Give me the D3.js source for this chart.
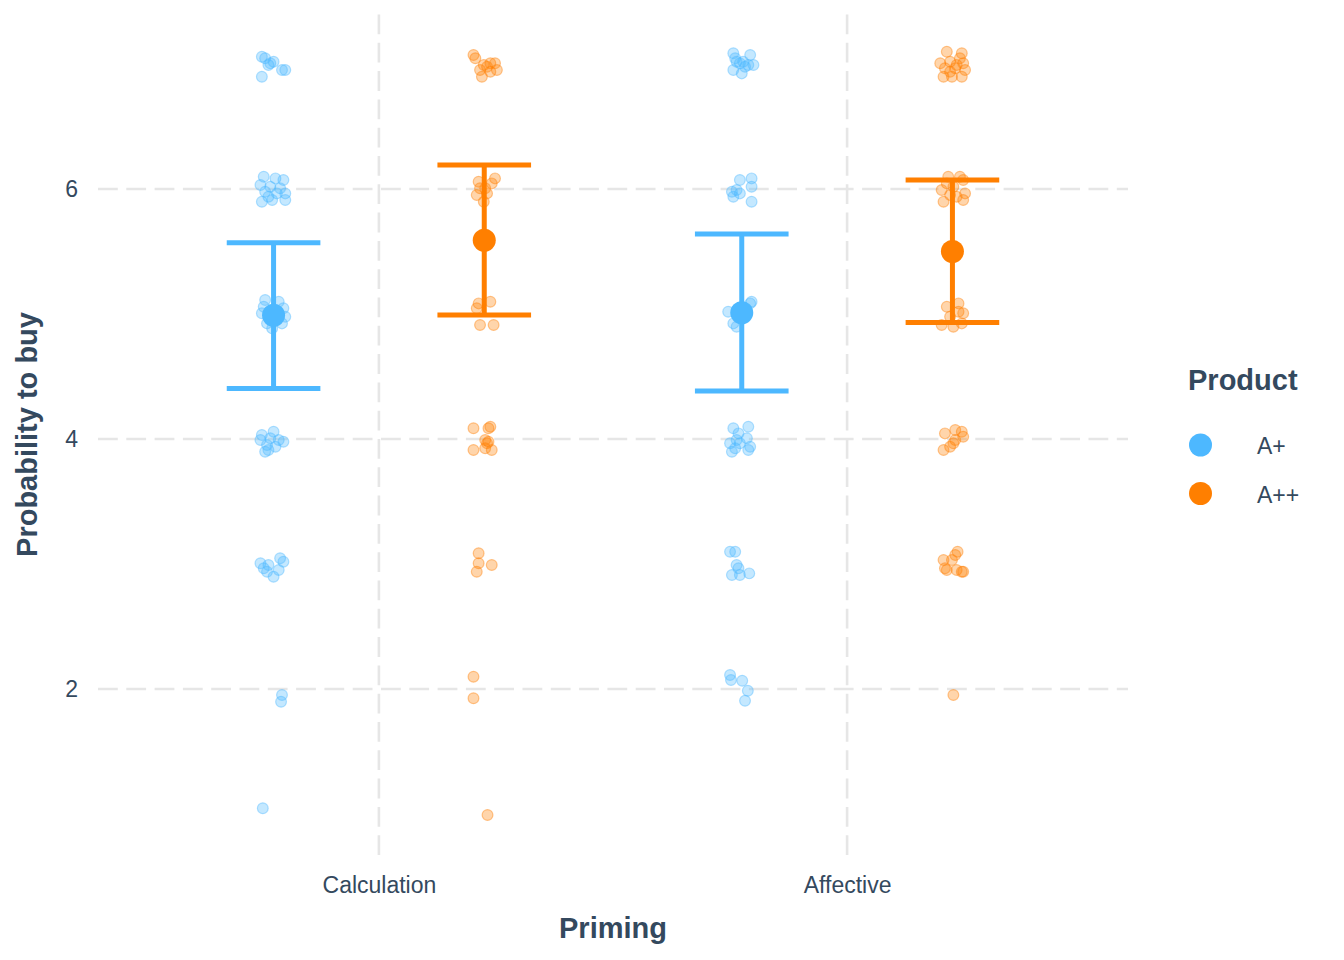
<!DOCTYPE html>
<html>
<head>
<meta charset="utf-8">
<script src="https://cdn.jsdelivr.net/npm/d3@7"></script>
<style>
  html, body { margin: 0; padding: 0; background: #ffffff; }
  svg { display: block; font-family: "Liberation Sans", Arial, Helvetica, sans-serif; }
</style>
</head>
<body>
<svg id="chart" width="1344" height="960"></svg>
<script>
// ---------------- DATA ----------------
const categories = ["Calculation", "Affective"];
const products = ["A+", "A++"];
const productColors = ["#4db8ff", "#ff7f00"];
const yTicks = [2, 4, 6];

// summary (mean and interval) per Priming x Product
const summaryCategory = ["Calculation", "Calculation", "Affective", "Affective"];
const summaryProduct  = ["A+", "A++", "A+", "A++"];
const summaryMean     = [4.99, 5.59, 5.01, 5.50];
const summaryLow      = [4.405, 4.992, 4.384, 4.933];
const summaryHigh     = [5.570, 6.192, 5.640, 6.072];

// jittered raw responses: [horizontal jitter (category units), value]
const pointsCalcAPlus = [
  [-0.025,7.058],[-0.018,7.046],[-0.007,7.006],[0.000,7.018],[0.018,6.952],[0.025,6.952],[-0.025,6.898],[-0.011,6.992],
  [-0.021,6.098],[0.004,6.085],[0.021,6.072],[-0.028,6.032],[-0.007,6.018],[0.014,6.006],[-0.018,5.978],[0.007,5.965],[0.025,5.965],[-0.025,5.898],[-0.003,5.912],[0.025,5.912],[-0.011,5.938],
  [-0.018,5.112],[0.011,5.098],[-0.025,5.006],[0.025,4.978],[-0.014,4.925],[0.018,4.925],[-0.003,4.885],[-0.021,5.058],[0.021,5.046],
  [-0.025,4.032],[0.000,4.058],[0.021,3.978],[-0.028,3.992],[-0.011,3.912],[0.004,3.938],[-0.014,3.952],[0.011,3.992],[-0.007,4.006],[-0.018,3.898],
  [-0.028,3.006],[-0.011,2.992],[0.014,3.046],[0.021,3.018],[-0.014,2.938],[0.000,2.898],[0.011,2.952],[-0.021,2.966],
  [0.018,1.952],[0.016,1.898],
  [-0.023,1.046]
];
const pointsCalcAPlusPlus = [
  [-0.023,7.072],[-0.019,7.046],[-0.001,6.992],[0.013,7.006],[0.023,7.006],[-0.009,6.952],[0.013,6.938],[-0.005,6.898],[0.027,6.952],[0.006,6.978],
  [-0.012,6.058],[0.023,6.085],[0.016,6.045],[-0.016,5.952],[0.006,5.965],[-0.001,5.898],[0.002,6.006],[-0.009,6.006],
  [-0.012,5.085],[0.013,5.098],[-0.016,5.046],[-0.009,4.912],[0.020,4.912],
  [-0.023,4.086],[0.009,4.086],[0.013,4.098],[0.002,3.992],[0.006,3.966],[-0.023,3.912],[0.002,3.926],[0.016,3.912],[0.009,3.978],
  [-0.012,3.086],[-0.012,3.006],[0.016,2.992],[-0.016,2.938],
  [-0.023,2.098],[-0.023,1.926],
  [0.007,0.992]
];
const pointsAffAPlus = [
  [-0.018,7.086],[-0.014,7.046],[0.018,7.072],[-0.004,7.006],[0.014,6.992],[0.025,6.992],[-0.018,6.952],[0.000,6.925],[0.007,6.978],[-0.011,7.018],[0.003,7.018],
  [-0.004,6.072],[0.021,6.085],[0.021,6.018],[-0.021,5.978],[-0.018,5.938],[-0.004,5.965],[0.021,5.898],[-0.011,5.992],
  [0.021,5.098],[-0.029,5.018],[-0.018,4.925],[0.018,5.085],[-0.011,4.898],
  [-0.018,4.086],[0.014,4.098],[-0.007,4.045],[0.011,4.006],[-0.025,3.966],[-0.004,3.966],[0.018,3.938],[-0.021,3.898],[-0.014,3.926],[0.014,3.912],[-0.011,3.992],
  [-0.025,3.098],[-0.014,3.098],[-0.011,2.992],[-0.007,2.966],[-0.021,2.912],[-0.004,2.912],[0.016,2.925],
  [-0.025,2.112],[-0.023,2.072],[0.001,2.066],[0.013,1.986],[0.007,1.906]
];
const pointsAffAPlusPlus = [
  [-0.012,7.098],[0.020,7.086],[0.016,7.046],[-0.026,7.006],[-0.005,7.018],[0.023,7.006],[-0.016,6.966],[0.006,6.966],[0.027,6.952],[-0.019,6.898],[-0.001,6.898],[0.020,6.898],[0.009,6.992],[-0.005,6.938],
  [-0.009,6.098],[0.016,6.098],[0.023,6.072],[-0.023,5.992],[0.002,6.018],[0.027,5.965],[-0.019,5.898],[0.023,5.912],[-0.005,5.952],[0.009,5.938],[-0.012,6.045],
  [-0.012,5.058],[0.013,5.085],[0.023,5.006],[-0.023,4.912],[0.002,4.898],[0.020,4.925],[-0.005,4.978],[0.013,5.018],
  [-0.016,4.045],[0.006,4.072],[0.020,4.058],[0.023,4.018],[0.002,3.966],[-0.019,3.912],[-0.005,3.938],[0.006,3.992],
  [0.011,3.098],[0.006,3.072],[-0.019,3.032],[-0.001,3.032],[-0.016,2.966],[-0.012,2.952],[0.009,2.952],[0.020,2.938],[0.023,2.938],
  [0.002,1.952]
];
const pointGroups = [
  { category: "Calculation", product: "A+",  points: pointsCalcAPlus },
  { category: "Calculation", product: "A++", points: pointsCalcAPlusPlus },
  { category: "Affective",   product: "A+",  points: pointsAffAPlus },
  { category: "Affective",   product: "A++", points: pointsAffAPlusPlus }
];

// ---------------- LAYOUT ----------------
const panel = { left: 98, right: 1128, top: 14, bottom: 855 };
const textColor = "#34495e";
const gridColor = "#e6e6e6";
const dodgeOffset = 0.225;   // half of dodge separation in category units
const capHalf = 0.1;         // error-bar cap half width
const tickFont = 23;
const titleFont = 29;

const svg = d3.select("#chart");

const x = d3.scalePoint().domain(categories).range([panel.left, panel.right]).padding(0.6);
const step = x.step();
const y = d3.scaleLinear().domain([0.672, 7.4]).range([panel.bottom, panel.top]);
const color = d3.scaleOrdinal().domain(products).range(productColors);
const dodge = d3.scaleOrdinal().domain(products).range([-dodgeOffset, dodgeOffset]);

const px = (cat, prod, dx) => x(cat) + (dodge(prod) + (dx || 0)) * step;

// grid
const grid = svg.append("g");
grid.selectAll("line.h").data(yTicks).join("line")
  .attr("x1", panel.left).attr("x2", panel.right)
  .attr("y1", d => y(d)).attr("y2", d => y(d))
  .attr("stroke", gridColor).attr("stroke-width", 2.6)
  .attr("stroke-dasharray", "19.8,8.5");
grid.selectAll("line.v").data(categories).join("line")
  .attr("x1", d => x(d)).attr("x2", d => x(d))
  .attr("y1", panel.bottom).attr("y2", panel.top)
  .attr("stroke", gridColor).attr("stroke-width", 2.6)
  .attr("stroke-dasharray", "19.8,8.5");

// axes
const yAxis = svg.append("g")
  .attr("transform", `translate(${panel.left},0)`)
  .call(d3.axisLeft(y).tickValues(yTicks).tickSize(0).tickPadding(20).tickFormat(d3.format("d")));
yAxis.select(".domain").remove();
yAxis.selectAll("text").attr("fill", textColor).attr("font-size", tickFont)
  .attr("font-family", "'Liberation Sans', Arial, sans-serif");

const xAxis = svg.append("g")
  .attr("transform", `translate(0,${panel.bottom})`)
  .call(d3.axisBottom(x).tickSize(0).tickPadding(22));
xAxis.select(".domain").remove();
xAxis.selectAll("text").attr("fill", textColor).attr("font-size", tickFont)
  .attr("font-family", "'Liberation Sans', Arial, sans-serif");

// axis titles
svg.append("text")
  .attr("x", (panel.left + panel.right) / 2).attr("y", 938)
  .attr("text-anchor", "middle").attr("font-size", titleFont).attr("font-weight", "bold")
  .attr("fill", textColor).text("Priming");
svg.append("text")
  .attr("transform", `translate(37,${(panel.top + panel.bottom) / 2}) rotate(-90)`)
  .attr("text-anchor", "middle").attr("font-size", titleFont).attr("font-weight", "bold")
  .attr("fill", textColor).text("Probability to buy");

// jittered points
const pts = svg.append("g");
pointGroups.forEach(g => {
  pts.selectAll(null).data(g.points).join("circle")
    .attr("cx", d => px(g.category, g.product, d[0]))
    .attr("cy", d => y(d[1]))
    .attr("r", 5.4)
    .attr("fill", color(g.product)).attr("fill-opacity", 0.33)
    .attr("stroke", color(g.product)).attr("stroke-opacity", 0.42).attr("stroke-width", 1.2);
});

// error bars + means
const summary = summaryMean.map((m, i) => ({
  category: summaryCategory[i], product: summaryProduct[i],
  mean: m, low: summaryLow[i], high: summaryHigh[i]
}));
const eb = svg.append("g");
eb.selectAll("line.stem").data(summary).join("line")
  .attr("x1", d => px(d.category, d.product)).attr("x2", d => px(d.category, d.product))
  .attr("y1", d => y(d.low)).attr("y2", d => y(d.high))
  .attr("stroke", d => color(d.product)).attr("stroke-width", 5);
eb.selectAll("line.capHi").data(summary).join("line")
  .attr("x1", d => px(d.category, d.product, -capHalf)).attr("x2", d => px(d.category, d.product, capHalf))
  .attr("y1", d => y(d.high)).attr("y2", d => y(d.high))
  .attr("stroke", d => color(d.product)).attr("stroke-width", 5);
eb.selectAll("line.capLo").data(summary).join("line")
  .attr("x1", d => px(d.category, d.product, -capHalf)).attr("x2", d => px(d.category, d.product, capHalf))
  .attr("y1", d => y(d.low)).attr("y2", d => y(d.low))
  .attr("stroke", d => color(d.product)).attr("stroke-width", 5);
eb.selectAll("circle").data(summary).join("circle")
  .attr("cx", d => px(d.category, d.product)).attr("cy", d => y(d.mean))
  .attr("r", 11.5).attr("fill", d => color(d.product));

// legend
const legend = svg.append("g");
legend.append("text").attr("x", 1188).attr("y", 390)
  .attr("font-size", titleFont).attr("font-weight", "bold").attr("fill", textColor).text("Product");
const items = legend.selectAll("g.item").data(products).join("g")
  .attr("transform", (d, i) => `translate(0,${445 + i * 48.5})`);
items.append("circle").attr("cx", 1200.5).attr("cy", 0).attr("r", 11.5).attr("fill", d => color(d));
items.append("text").attr("x", 1257).attr("y", 9)
  .attr("font-size", tickFont).attr("fill", textColor).text(d => d);
</script>
</body>
</html>
